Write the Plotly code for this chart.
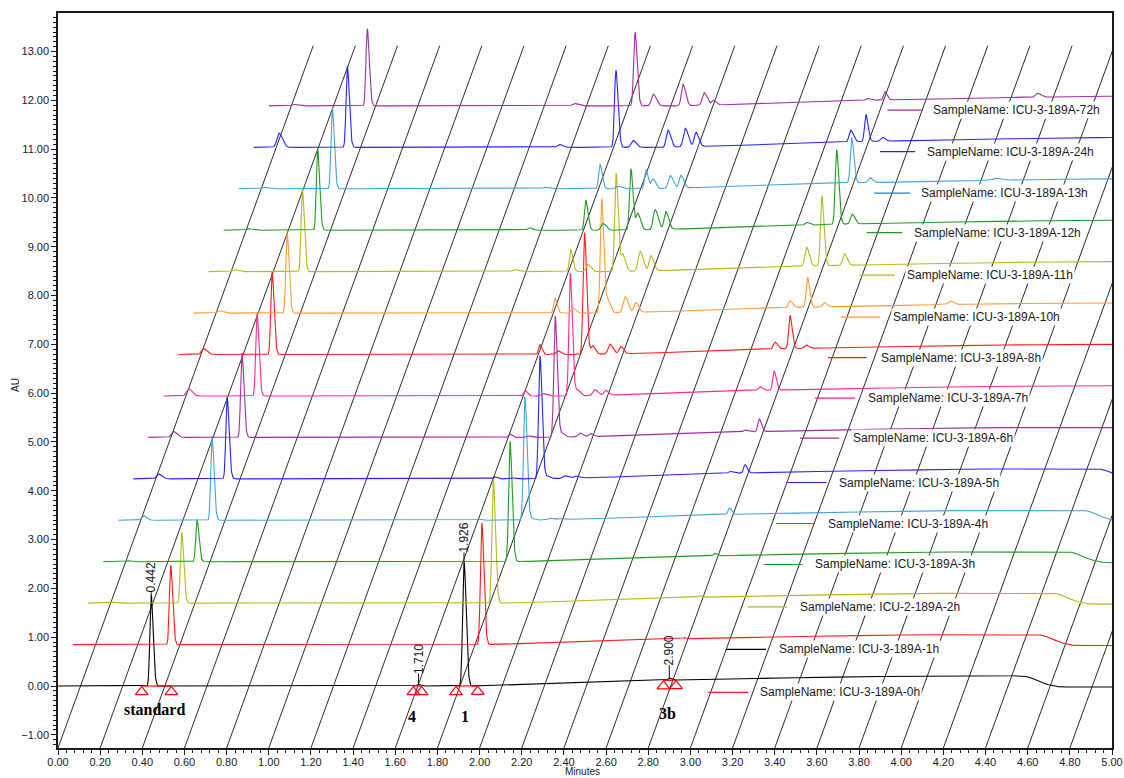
import numpy as np
import plotly.graph_objects as go

# ---------------------------------------------------------------------------
# Samples (bottom trace first) and their colours
# ---------------------------------------------------------------------------
sample_names = [
    "ICU-3-189A-0h", "ICU-3-189A-1h", "ICU-2-189A-2h", "ICU-3-189A-3h",
    "ICU-3-189A-4h", "ICU-3-189A-5h", "ICU-3-189A-6h", "ICU-3-189A-7h",
    "ICU-3-189A-8h", "ICU-3-189A-10h", "ICU-3-189A-11h", "ICU-3-189A-12h",
    "ICU-3-189A-13h", "ICU-3-189A-24h", "ICU-3-189A-72h",
]
trace_colors = [
    "#000000", "#ff1a1a", "#b8b820", "#229a22", "#42a4dc", "#2424ff",
    "#9c2fa0", "#ff2b8c", "#ff1a1a", "#ff9a3a", "#b8b820", "#229a22",
    "#42a4dc", "#2424ff", "#9c2fa0",
]
legend_colors = [
    "#ff1a1a", "#000000", "#b8b820", "#229a22", "#1f7fc0", "#2424ff",
    "#9c2fa0", "#ff1a8c", "#ff1a1a", "#ff9a3a", "#b8b820", "#229a22",
    "#1f7fc0", "#2424ff", "#9c2fa0",
]

# ---------------------------------------------------------------------------
# Peak tables: retention time (min) and height (AU) per sample
# ---------------------------------------------------------------------------
rt_early = [0.12] * 15
h_early = [0, 0, 0.02, 0.02, 0.09, 0.10, 0.12, 0.15, 0.12, 0.05, 0.04, 0.03, 0.03, 0.29, 0.03]

rt_std = [0.442, 0.463, 0.444, 0.445, 0.445, 0.445, 0.444, 0.444, 0.444, 0.444, 0.445, 0.446, 0.444, 0.444, 0.467]
h_std = [1.86, 1.62, 1.45, 0.86, 1.72, 1.68, 1.73, 1.70, 1.69, 1.65, 1.67, 1.65, 1.65, 1.67, 1.58]

rt_145 = [1.45] * 15
h_145 = [0, 0, 0, 0, 0, 0, 0, 0, 0, 0, 0.04, 0.05, 0.03, 0.06, 0.05]

rt_c4 = [1.710, 1.715, 1.715, 1.715, 1.715, 1.715, 1.715, 1.715, 1.715, 1.715, 1.718, 1.718, 1.714, 1.718, 1.737]
h_c4 = [0.03, 0, 0, 0, 0.02, 0.04, 0.07, 0.12, 0.20, 0.30, 0.45, 0.61, 0.50, 1.58, 1.51]

rt_180 = [1.80] * 14 + [1.824]
h_180 = [0, 0, 0, 0, 0, 0.02, 0.03, 0.05, 0.08, 0.10, 0.15, 0.14, 0.05, 0.14, 0.24]

rt_c1 = [1.926, 1.939, 1.922, 1.930, 1.929, 1.929, 1.930, 1.930, 1.926, 1.936, 1.933, 1.932, 1.932, 1.930, 1.950]
h_c1 = [2.55, 2.49, 2.52, 2.46, 2.54, 2.52, 2.48, 2.52, 2.50, 2.34, 2.02, 1.26, 0.38, 0, 0]

rt_196 = [1.965] * 15
h_196 = [0, 0, 0, 0, 0.03, 0.05, 0.08, 0.12, 0.18, 0.25, 0.34, 0.34, 0.20, 0.35, 0.44]

rt_205 = [2.047] * 14 + [2.065]
h_205 = [0, 0, 0, 0, 0.03, 0.05, 0.08, 0.12, 0.20, 0.33, 0.41, 0.41, 0.26, 0.38, 0.26]

rt_210 = [2.098] * 14 + [2.110]
h_210 = [0, 0, 0, 0, 0.02, 0.04, 0.06, 0.10, 0.15, 0.20, 0.31, 0.37, 0.26, 0.29, 0.10]

rt_283 = [2.83] * 10 + [2.837, 2.765, 2.83, 2.832, 2.84]
h_283 = [0, 0, 0, 0, 0, 0.04, 0.04, 0.08, 0.14, 0.14, 0.39, 0.06, 0, 0.24, 0.04]

rt_3b = [2.900, 2.90, 2.90, 2.90, 2.90, 2.902, 2.898, 2.897, 2.901, 2.913, 2.909, 2.908, 2.908, 2.904, 2.923]
h_3b = [0.04, 0.02, 0.03, 0.05, 0.13, 0.17, 0.26, 0.39, 0.68, 0.61, 1.43, 1.53, 0.92, 0.55, 0.17]

rt_298 = [2.98] * 8 + [2.977, 2.992, 3.016, 2.982, 2.995, 2.983, 2.98]
h_298 = [0, 0, 0, 0, 0, 0, 0, 0, 0.07, 0.09, 0.24, 0.20, 0.10, 0.08, 0]

rt_359 = [3.59] * 14 + [3.648]
h_359 = [0, 0, 0, 0, 0, 0, 0, 0, 0, 0.07, 0, 0, 0.04, 0, 0.08]

# Baseline drift (local minutes -> AU), shared by all runs
drift_t = [0.0, 1.95, 2.30, 2.90, 3.50, 4.00, 4.56, 4.60, 4.64, 4.68, 4.72, 4.76, 6.0]
drift_v = [0.0, 0.0, 0.04, 0.12, 0.17, 0.20, 0.21, 0.19, 0.13, 0.05, 0.00, -0.02, -0.02]

# Integration marks on the standard run and peak labels
tri_t = [0.397, 0.538, 1.686, 1.725, 1.888, 1.991, 2.872, 2.932]
label_rt = [rt_std[0], rt_c4[0], rt_c1[0], rt_3b[0]]
compound_names = ["standard", "4", "1", "3b"]

# ---------------------------------------------------------------------------
# Layout constants
# ---------------------------------------------------------------------------
X_STEP = 1.0 / 14.0        # horizontal offset between runs (min)
Y_STEP = 0.849             # vertical offset between runs (AU)
Y_MIN, Y_MAX = -1.27, 13.79
GRID_TOP = 13.12
FONT = "Liberation Sans, Arial, sans-serif"

peak_table = [
    (rt_early, h_early, 0.010), (rt_std, h_std, 0.0060), (rt_145, h_145, 0.010),
    (rt_c4, h_c4, 0.0065), (rt_180, h_180, 0.009), (rt_c1, h_c1, 0.0065),
    (rt_196, h_196, 0.008), (rt_205, h_205, 0.009), (rt_210, h_210, 0.008),
    (rt_283, h_283, 0.008), (rt_3b, h_3b, 0.0065), (rt_298, h_298, 0.008),
    (rt_359, h_359, 0.010),
]


def peak_shape(t, rt, h, s, tail=1.6):
    sig = np.where(t < rt, s, s * tail)
    return h * np.exp(-0.5 * ((t - rt) / sig) ** 2)


def chromatogram(i, t):
    y = np.interp(t, drift_t, drift_v)
    for rts, hs, s in peak_table:
        if hs[i] > 0:
            y = y + peak_shape(t, rts[i], hs[i], s)
    return y


fig = go.Figure()

# Slanted time grid running through the stack
slope = X_STEP / Y_STEP
gx, gy = [], []
for t0 in np.arange(0.0, 5.001, 0.2):
    gx += [t0, t0 + slope * (GRID_TOP - Y_MIN), None]
    gy += [Y_MIN, GRID_TOP, None]
fig.add_trace(go.Scatter(x=gx, y=gy, mode="lines",
                         line=dict(color="#2a2a2a", width=1),
                         hoverinfo="skip", showlegend=False))

# Stacked chromatograms
for i, name in enumerate(sample_names):
    t_end = 5.0 - i * X_STEP + 0.01
    t = np.arange(0.0, t_end, 0.0015)
    apexes = [rts[i] for rts, hs, _ in peak_table if hs[i] > 0]
    t = np.unique(np.concatenate([t, apexes]))
    y = chromatogram(i, t)
    fig.add_trace(go.Scatter(x=t + i * X_STEP, y=y + i * Y_STEP, mode="lines",
                             line=dict(color=trace_colors[i], width=1.1),
                             name=name, showlegend=False))

# Integration baselines and start/end triangles on the standard run
tri_t_arr = np.array(tri_t)
tri_base = np.interp(tri_t_arr, drift_t, drift_v)
ix, iy = [], []
for k in range(0, len(tri_t), 2):
    ix += [tri_t[k], tri_t[k + 1], None]
    iy += [tri_base[k], tri_base[k + 1], None]
fig.add_trace(go.Scatter(x=ix, y=iy, mode="lines", line=dict(color="#ff0000", width=1.2),
                         hoverinfo="skip", showlegend=False))
fig.add_trace(go.Scatter(x=tri_t_arr, y=tri_base - 0.12, mode="markers",
                         marker=dict(symbol="triangle-up-open", size=11,
                                     color="#ff0000", line=dict(width=1.2, color="#ff0000")),
                         hoverinfo="skip", showlegend=False))

# Retention-time labels on the standard run
tick_len_px = [3, 11, 9, 13]
apex_vals = [float(chromatogram(0, np.array([r]))[0]) for r in label_rt]
px_per_au = 735.0 / (Y_MAX - Y_MIN)
lx, ly = [], []
for r, a, L in zip(label_rt, apex_vals, tick_len_px):
    lx += [r, r, None]
    ly += [a, a + L / px_per_au, None]
    fig.add_annotation(x=r, y=a + L / px_per_au, yshift=15, text=f"{r:.3f}",
                       textangle=-90, showarrow=False, xanchor="center", yanchor="middle",
                       font=dict(family=FONT, size=12, color="#111111"))
fig.add_trace(go.Scatter(x=lx, y=ly, mode="lines", line=dict(color="#111111", width=1),
                         hoverinfo="skip", showlegend=False))

# Compound names under the standard run
name_pos = [(0.46, -0.48), (1.678, -0.63), (1.931, -0.63), (2.890, -0.56)]
for txt, (x, y) in zip(compound_names, name_pos):
    fig.add_annotation(x=x, y=y, text=f"<b>{txt}</b>", showarrow=False,
                       font=dict(family="Liberation Serif, Times New Roman, serif",
                                 size=16, color="#000000"))

# Sample legend, staggered alongside the stack
legend_pos = [
    (3.085, 3.275, 3.322, -0.13), (3.169, 3.359, 3.409, 0.75),
    (3.272, 3.460, 3.509, 1.62), (3.346, 3.533, 3.583, 2.49),
    (3.406, 3.591, 3.643, 3.33), (3.460, 3.647, 3.697, 4.17),
    (3.520, 3.706, 3.760, 5.08), (3.591, 3.781, 3.832, 5.90),
    (3.653, 3.836, 3.896, 6.73), (3.713, 3.899, 3.950, 7.56),
    (3.801, 3.970, 4.018, 8.42), (3.836, 4.005, 4.050, 9.29),
    (3.872, 4.042, 4.085, 10.10), (3.899, 4.066, 4.113, 10.95),
    (3.935, 4.097, 4.140, 11.80),
]
for name, col, (x0, x1, xt, y) in zip(sample_names, legend_colors, legend_pos):
    fig.add_annotation(x=xt, y=y, text=f"SampleName: {name}", showarrow=False,
                       xanchor="left", yanchor="middle", bgcolor="white", borderpad=1,
                       font=dict(family=FONT, size=12, color="#1a1a1a"))
    fig.add_shape(type="line", xref="x", yref="y", x0=x0, x1=x1, y0=y, y1=y,
                  line=dict(color=col, width=1.2), layer="above")

# Axis titles
fig.add_annotation(xref="paper", yref="paper", x=0.498, y=-0.0313, text="Minutes",
                   showarrow=False, yanchor="middle",
                   font=dict(family=FONT, size=10, color="#1a1a1a"))
fig.add_annotation(xref="paper", yref="paper", x=-0.0398, y=0.494, text="AU",
                   showarrow=False, textangle=-90, xanchor="center", yanchor="middle",
                   font=dict(family=FONT, size=10, color="#1a1a1a"))

axis_common = dict(showgrid=False, zeroline=False, showline=True, mirror=True,
                   linecolor="#1a1a1a", linewidth=1.5, ticks="outside", ticklen=5,
                   tickcolor="#1a1a1a", tickformat=".2f", automargin=False,
                   tickfont=dict(family=FONT, size=11, color="#1a1a1a"))

fig.update_xaxes(range=[0, 5], tick0=0, dtick=0.2, ticklabelstandoff=-2,
                 minor=dict(ticks="outside", ticklen=3, dtick=0.04, tickcolor="#1a1a1a"),
                 **axis_common)
fig.update_yaxes(range=[Y_MIN, Y_MAX], tick0=0, dtick=1,
                 minor=dict(ticks="outside", ticklen=3, dtick=0.1, tickcolor="#1a1a1a"),
                 **axis_common)

fig.update_layout(width=1124, height=778,
                  margin=dict(l=58, r=12, t=13, b=30),
                  paper_bgcolor="white", plot_bgcolor="white",
                  showlegend=False)

fig.write_html("out.html")
